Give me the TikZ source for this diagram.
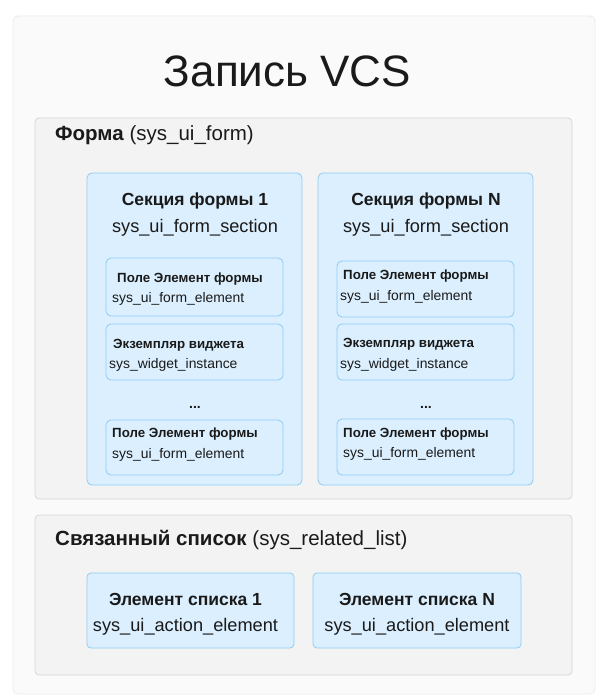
\documentclass[tikz,border=0pt]{standalone}
\usepackage{fontspec}
\setmainfont{Liberation Sans}
\definecolor{outerfill}{HTML}{FAFAFA}
\definecolor{outerline}{HTML}{ECECEC}
\definecolor{grpfill}{HTML}{F3F3F3}
\definecolor{grpline}{HTML}{D6D6D6}
\definecolor{bluefill}{HTML}{DBEFFE}
\definecolor{blueline}{HTML}{8FCBF3}
\definecolor{ink}{HTML}{1A1A1A}
\begin{document}
\begin{tikzpicture}[x=1pt,y=-1pt,
  box/.style={anchor=north west, inner sep=0pt, outer sep=0pt, line width=0.8pt},
  outerbox/.style={box, draw=outerline, fill=outerfill, rounded corners=5pt},
  grpbox/.style={box, draw=grpline, fill=grpfill, rounded corners=4pt},
  secbox/.style={box, draw=blueline, fill=bluefill, rounded corners=5pt},
  txt/.style={inner sep=0pt, text=ink, anchor=base},
  ttl/.style={txt, font=\fontsize{44}{52}\selectfont},
  head/.style={txt, anchor=base west, font=\fontsize{20.5}{24}\selectfont},
  sectitle/.style={txt, font=\bfseries\fontsize{17.5}{20}\selectfont},
  secsub/.style={txt, font=\fontsize{18.2}{21}\selectfont},
  eltitle/.style={txt, anchor=base west, font=\bfseries\fontsize{13.3}{16}\selectfont},
  elsub/.style={txt, anchor=base west, font=\fontsize{13.9}{16}\selectfont},
  dots/.style={txt, font=\bfseries\fontsize{14}{16}\selectfont}
]
\useasboundingbox[fill=white] (0,0) rectangle (600,695);
\node[outerbox, minimum width=582, minimum height=678] (record) at (13,16) {};
\node[ttl] (title) at (287.5,87) {Запись VCS};

% Form group
\node[grpbox, minimum width=537, minimum height=381] (form) at (35,118) {};
\node[head] (formlbl) at (55,141) {\textbf{Форма} (sys\_ui\_form)};

% Section 1
\node[secbox, minimum width=215, minimum height=312] (sec1) at (87,173) {};
\node[sectitle] (sec1t) at (195,205.5) {Секция формы 1};
\node[secsub] (sec1s) at (195,232.5) {sys\_ui\_form\_section};
\node[secbox, minimum width=177, minimum height=58] (s1e1) at (106,258) {};
\node[eltitle] (s1e1t) at (117,282.5) {Поле Элемент формы};
\node[elsub] (s1e1s) at (112,302) {sys\_ui\_form\_element};
\node[secbox, minimum width=177, minimum height=56] (s1e2) at (106,324) {};
\node[eltitle] (s1e2t) at (113,348.5) {Экземпляр виджета};
\node[elsub] (s1e2s) at (109,368) {sys\_widget\_instance};
\node[dots] (s1d) at (195,408.5) {...};
\node[secbox, minimum width=177, minimum height=55] (s1e3) at (106,420) {};
\node[eltitle] (s1e3t) at (112,437.5) {Поле Элемент формы};
\node[elsub] (s1e3s) at (112,458) {sys\_ui\_form\_element};

% Section N
\node[secbox, minimum width=215, minimum height=312] (secN) at (318,173) {};
\node[sectitle] (secNt) at (426,205.5) {Секция формы N};
\node[secsub] (secNs) at (426,232.5) {sys\_ui\_form\_section};
\node[secbox, minimum width=177, minimum height=56] (sNe1) at (337,261) {};
\node[eltitle] (sNe1t) at (343,279.5) {Поле Элемент формы};
\node[elsub] (sNe1s) at (340,300) {sys\_ui\_form\_element};
\node[secbox, minimum width=177, minimum height=56] (sNe2) at (337,324) {};
\node[eltitle] (sNe2t) at (343,347.5) {Экземпляр виджета};
\node[elsub] (sNe2s) at (340,368) {sys\_widget\_instance};
\node[dots] (sNd) at (426,408.5) {...};
\node[secbox, minimum width=177, minimum height=56] (sNe3) at (337,419) {};
\node[eltitle] (sNe3t) at (343,437.5) {Поле Элемент формы};
\node[elsub] (sNe3s) at (343,457) {sys\_ui\_form\_element};

% Related list group
\node[grpbox, minimum width=537, minimum height=160] (rel) at (35,515) {};
\node[head] (rellbl) at (55,545) {\textbf{Связанный список} (sys\_related\_list)};
\node[secbox, rounded corners=4pt, minimum width=207, minimum height=75] (li1) at (87,573) {};
\node[sectitle] (li1t) at (185.5,605) {Элемент списка 1};
\node[secsub] (li1s) at (185.5,631.5) {sys\_ui\_action\_element};
\node[secbox, rounded corners=4pt, minimum width=208, minimum height=75] (liN) at (313,573) {};
\node[sectitle] (liNt) at (417,605) {Элемент списка N};
\node[secsub] (liNs) at (417,631.5) {sys\_ui\_action\_element};
\end{tikzpicture}
\end{document}
